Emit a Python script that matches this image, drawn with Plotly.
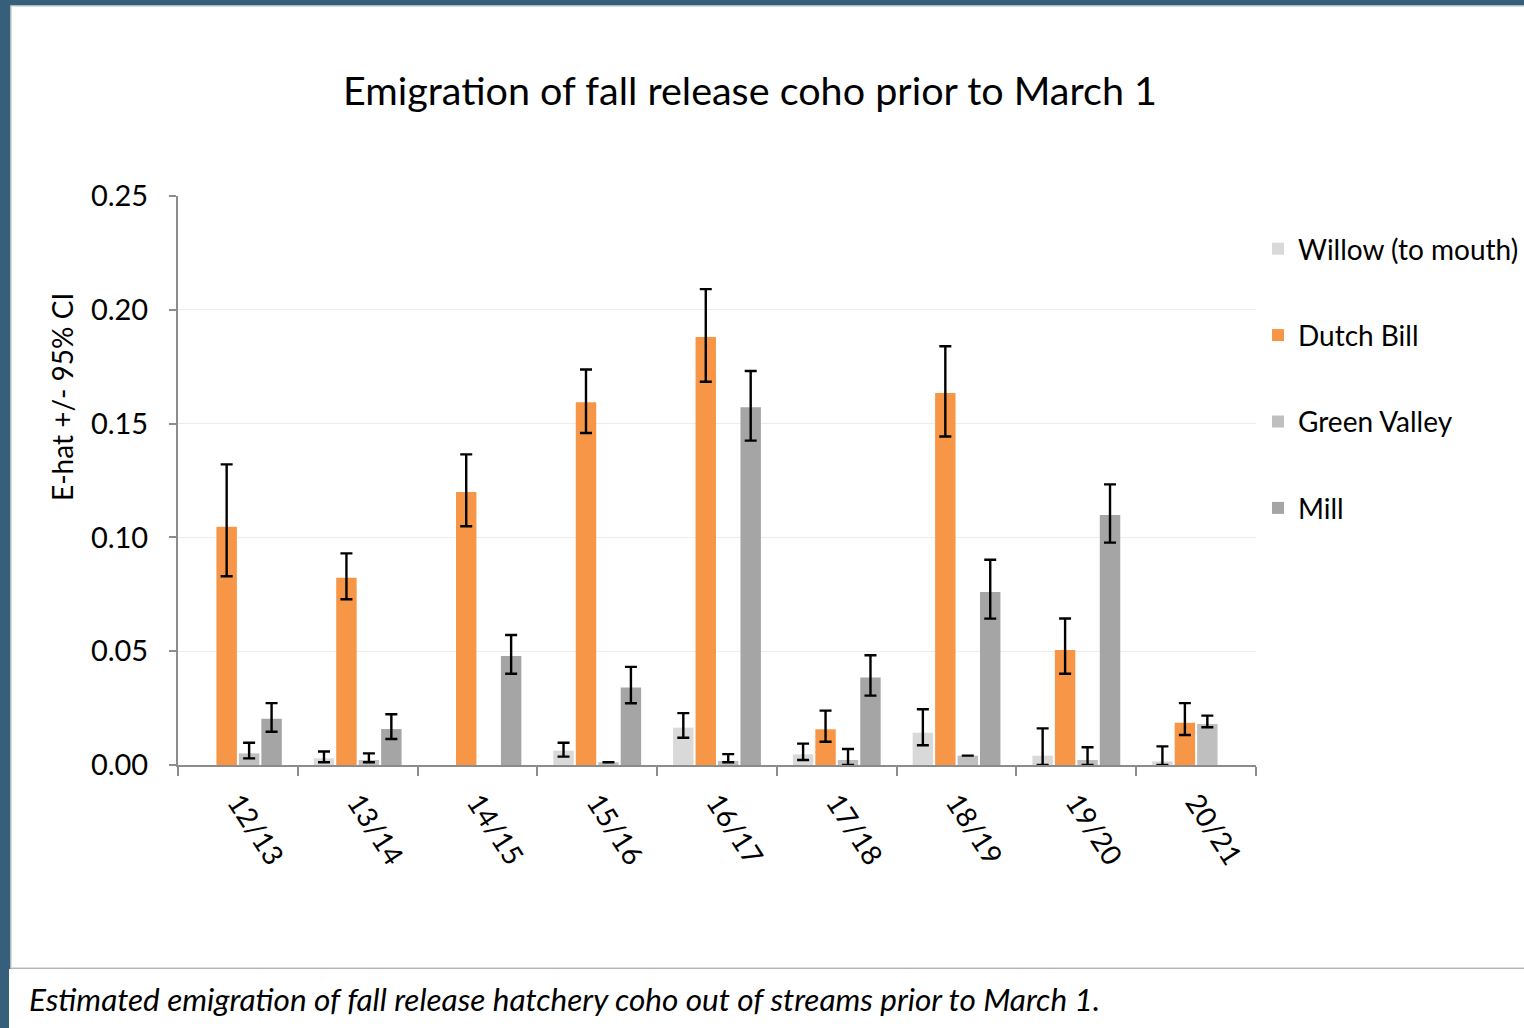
import plotly.graph_objects as go

# Winter seasons on the x axis
seasons = ["12/13", "13/14", "14/15", "15/16", "16/17", "17/18", "18/19", "19/20", "20/21"]

# E-hat estimates per stream (None = no estimate plotted)
willow = [None, 0.0029, None, 0.0063, 0.0164, 0.0047, 0.0142, 0.0041, 0.0016]
dutch_bill = [0.1047, 0.0823, 0.1199, 0.1594, 0.1881, 0.0157, 0.1634, 0.0505, 0.0186]
green_valley = [0.0051, 0.0022, None, 0.0012, 0.0018, 0.0022, 0.0041, 0.0022, 0.0180]
mill = [0.0203, 0.0158, 0.0479, 0.0340, 0.1572, 0.0384, 0.0760, 0.1098, None]

# Upper / lower 95% confidence limits (None = no interval drawn)
willow_hi = [None, 0.0059, None, 0.0098, 0.0228, 0.0094, 0.0245, 0.0161, 0.0082]
willow_lo = [None, 0.0012, None, 0.0037, 0.0120, 0.0022, 0.0087, 0.0, 0.0]
dutch_hi = [0.1321, 0.0930, 0.1365, 0.1738, 0.2091, 0.0239, 0.1840, 0.0644, 0.0272]
dutch_lo = [0.0829, 0.0728, 0.1049, 0.1459, 0.1684, 0.0102, 0.1443, 0.0401, 0.0132]
green_hi = [0.0098, 0.0051, None, None, 0.0048, 0.0070, 0.0041, 0.0078, 0.0217]
green_lo = [0.0029, 0.0012, None, None, 0.0012, 0.0, 0.0041, 0.0, 0.0166]
mill_hi = [0.0272, 0.0223, 0.0571, 0.0431, 0.1731, 0.0482, 0.0902, 0.1233, None]
mill_lo = [0.0146, 0.0114, 0.0401, 0.0271, 0.1425, 0.0305, 0.0643, 0.0977, None]

series = [
    ("Willow (to mouth)", willow, willow_hi, willow_lo, "#d9d9d9"),
    ("Dutch Bill", dutch_bill, dutch_hi, dutch_lo, "#f79646"),
    ("Green Valley", green_valley, green_hi, green_lo, "#bfbfbf"),
    ("Mill", mill, mill_hi, mill_lo, "#a5a5a5"),
]

FONT = "Lato"

W, H = 1524, 1028
L, R, T, B = 178, 1256, 196, 765  # plot area in pixels


def px(x):
    return (x - L) / (R - L)


def py(y):
    return (B - y) / (B - T)


def err(vals, bounds, upper):
    out = []
    for v, b in zip(vals, bounds):
        if v is None or b is None:
            out.append(None)
        else:
            out.append(max(b - v, 0) if upper else max(v - b, 0))
    return out


fig = go.Figure()
for name, vals, hi, lo, color in series:
    fig.add_trace(go.Bar(
        name=name, x=seasons, y=vals, marker=dict(color=color, line=dict(width=0)),
        legendgroup=name,
        error_y=dict(type="data", symmetric=False, array=err(vals, hi, True),
                     arrayminus=err(vals, lo, False),
                     color="black", thickness=2.4, width=6),
    ))

shapes = [
    # white chart panel on the dark frame
    dict(type="rect", xref="paper", yref="paper", layer="below",
         x0=px(11), x1=px(W + 5), y0=py(968), y1=py(6),
         fillcolor="white", line=dict(color="#d4d4d4", width=1.5)),
    # caption strip
    dict(type="rect", xref="paper", yref="paper", layer="below",
         x0=px(9), x1=px(W + 5), y0=py(H + 5), y1=py(969),
         fillcolor="white", line=dict(width=0)),
]

annotations = [
    dict(text="E-hat +/- 95% CI", xref="paper", yref="paper", x=px(62), y=py(397),
         textangle=-90, showarrow=False, font=dict(family=FONT, size=28, color="black"),
         xanchor="center", yanchor="middle"),
    dict(text="<i>Estimated emigration of fall release hatchery coho out of streams prior to March 1.</i>",
         xref="paper", yref="paper", x=px(27), y=py(999), showarrow=False,
         font=dict(family=FONT, size=31.5, color="black"), xanchor="left", yanchor="middle"),
]

fig.update_layout(
    width=W, height=H,
    margin=dict(l=L, r=W - R, t=T, b=H - B, autoexpand=False),
    paper_bgcolor="#365f7b", plot_bgcolor="white",
    font=dict(family=FONT, size=28, color="black"),
    title=dict(text="Emigration of fall release coho prior to March 1",
               x=750 / W, xanchor="center", y=1 - 91 / H, yanchor="middle",
               font=dict(family=FONT, size=39.5, color="black")),
    barmode="group", bargap=0.25, bargroupgap=0.09,
    showlegend=True,
    legend=dict(xref="container", yref="container", x=1258 / W, y=1 - 224 / H,
                xanchor="left", yanchor="top",
                font=dict(family=FONT, size=28), tracegroupgap=47,
                bgcolor="rgba(0,0,0,0)", itemwidth=30),
    xaxis=dict(type="category", tickangle=57, showline=True, linecolor="#8c8c8c", linewidth=2,
               ticks="outside", tickson="boundaries", ticklen=9, tickwidth=2, tickcolor="#8c8c8c",
               showgrid=False, tickfont=dict(family=FONT, size=28), ticklabelstandoff=8),
    yaxis=dict(range=[0, 0.25], dtick=0.05, tickformat=".2f", showline=True,
               linecolor="#8c8c8c", linewidth=2, ticks="outside", ticklen=7, tickwidth=2,
               tickcolor="#8c8c8c", gridcolor="#ececec", gridwidth=1, zeroline=False,
               tickfont=dict(family=FONT, size=29), ticklabelstandoff=15),
    shapes=shapes, annotations=annotations,
)

fig.write_html("out.html")
